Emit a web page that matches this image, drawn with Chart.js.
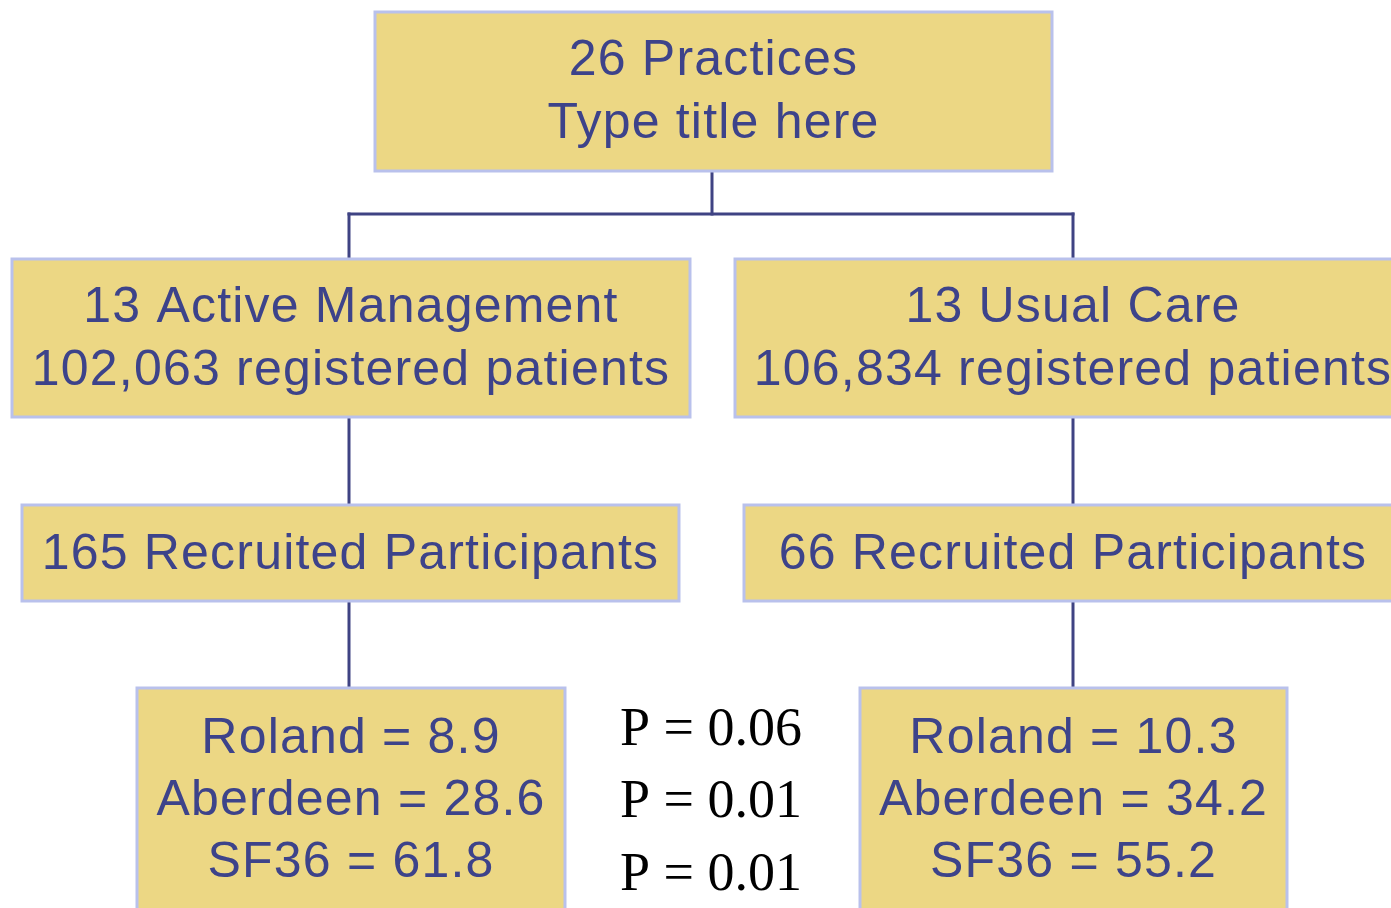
<!DOCTYPE html>
<html>
<head>
<meta charset="utf-8">
<script src="https://cdn.jsdelivr.net/npm/chart.js@4.4.1/dist/chart.umd.min.js"></script>
<style>
  html, body { margin: 0; padding: 0; background: #fff; }
  #wrap { width: 1391px; height: 908px; }
</style>
</head>
<body>
<div id="wrap"><canvas id="flow"></canvas></div>
<script>
// trial numbers
const totalPractices = 26;
const arms = ['Active Management', 'Usual Care'];
const armPractices = [13, 13];
const registered = [102063, 106834];
const recruited = [165, 66];
const roland = [8.9, 10.3];
const aberdeen = [28.6, 34.2];
const sf36 = [61.8, 55.2];
const pValues = [0.06, 0.01, 0.01];

// layout in page units (x 0..1391, y 0..908 top-down)
const boxes = [
  { x0: 375, x1: 1052, y0: 12, y1: 171, lines: [61, 124] },
  { x0: 12, x1: 690, y0: 259, y1: 417, lines: [308, 371] },
  { x0: 735, x1: 1400, y0: 259, y1: 417, lines: [308, 371], cx: 1073 },
  { x0: 22, x1: 679, y0: 505, y1: 601, lines: [555] },
  { x0: 744, x1: 1400, y0: 505, y1: 601, lines: [555], cx: 1073 },
  { x0: 137, x1: 565, y0: 688, y1: 920, lines: [739, 801, 863] },
  { x0: 860, x1: 1287, y0: 688, y1: 920, lines: [739, 801, 863] }
];
const connectors = [
  [[712, 171], [712, 214]],
  [[349, 214], [1073, 214]],
  [[349, 214], [349, 259]],
  [[1073, 214], [1073, 259]],
  [[349, 417], [349, 505]],
  [[1073, 417], [1073, 505]],
  [[349, 601], [349, 688]],
  [[1073, 601], [1073, 688]]
];
const pLayout = { x: 620, ys: [731, 803, 876] };

const fmt = n => n.toLocaleString('en-US');
const boxTexts = [
  [totalPractices + ' Practices', 'Type title here'],
  [armPractices[0] + ' ' + arms[0], fmt(registered[0]) + ' registered patients'],
  [armPractices[1] + ' ' + arms[1], fmt(registered[1]) + ' registered patients'],
  [recruited[0] + ' Recruited Participants'],
  [recruited[1] + ' Recruited Participants'],
  ['Roland = ' + roland[0], 'Aberdeen = ' + aberdeen[0], 'SF36 = ' + sf36[0]],
  ['Roland = ' + roland[1], 'Aberdeen = ' + aberdeen[1], 'SF36 = ' + sf36[1]]
];

const flowPlugin = {
  id: 'flow',
  afterDraw(chart) {
    const { ctx, scales: { x, y } } = chart;
    const px = v => x.getPixelForValue(v);
    const py = v => y.getPixelForValue(v);
    ctx.save();

    // connectors
    ctx.strokeStyle = '#3f4383';
    ctx.lineWidth = 3;
    ctx.lineCap = 'square';
    connectors.forEach(([a, b]) => {
      ctx.beginPath();
      ctx.moveTo(px(a[0]), py(a[1]));
      ctx.lineTo(px(b[0]), py(b[1]));
      ctx.stroke();
    });

    // boxes
    boxes.forEach((b, i) => {
      const l = px(b.x0), r = px(b.x1), t = py(b.y0), bt = py(b.y1);
      ctx.fillStyle = '#ecd784';
      ctx.fillRect(l, t, r - l, bt - t);
      ctx.strokeStyle = '#b9c1ec';
      ctx.lineWidth = 3;
      ctx.strokeRect(l, t, r - l, bt - t);

      ctx.fillStyle = '#3d438a';
      ctx.font = '50px "Liberation Sans", Arial, sans-serif';
      ctx.letterSpacing = '1.2px';
      ctx.textAlign = 'center';
      ctx.textBaseline = 'middle';
      const cx = px(b.cx !== undefined ? b.cx : (b.x0 + b.x1) / 2);
      boxTexts[i].forEach((txt, j) => {
        ctx.fillText(txt, cx, py(b.lines[j]));
      });
    });

    // p values
    ctx.fillStyle = '#000';
    ctx.letterSpacing = '0px';
    ctx.font = '54px "Liberation Serif", "Times New Roman", serif';
    ctx.textAlign = 'left';
    ctx.textBaseline = 'middle';
    pValues.forEach((p, i) => {
      ctx.fillText('P = ' + p.toFixed(2), px(pLayout.x), py(pLayout.ys[i]));
    });
    ctx.restore();
  }
};

new Chart(document.getElementById('flow'), {
  type: 'scatter',
  data: { datasets: [{ data: [], pointRadius: 0 }] },
  options: {
    responsive: true,
    maintainAspectRatio: false,
    animation: false,
    layout: { padding: 0 },
    plugins: { legend: { display: false }, tooltip: { enabled: false } },
    scales: {
      x: { type: 'linear', min: 0, max: 1391, display: false },
      y: { type: 'linear', min: 0, max: 908, reverse: true, display: false }
    }
  },
  plugins: [flowPlugin]
});
</script>
</body>
</html>
